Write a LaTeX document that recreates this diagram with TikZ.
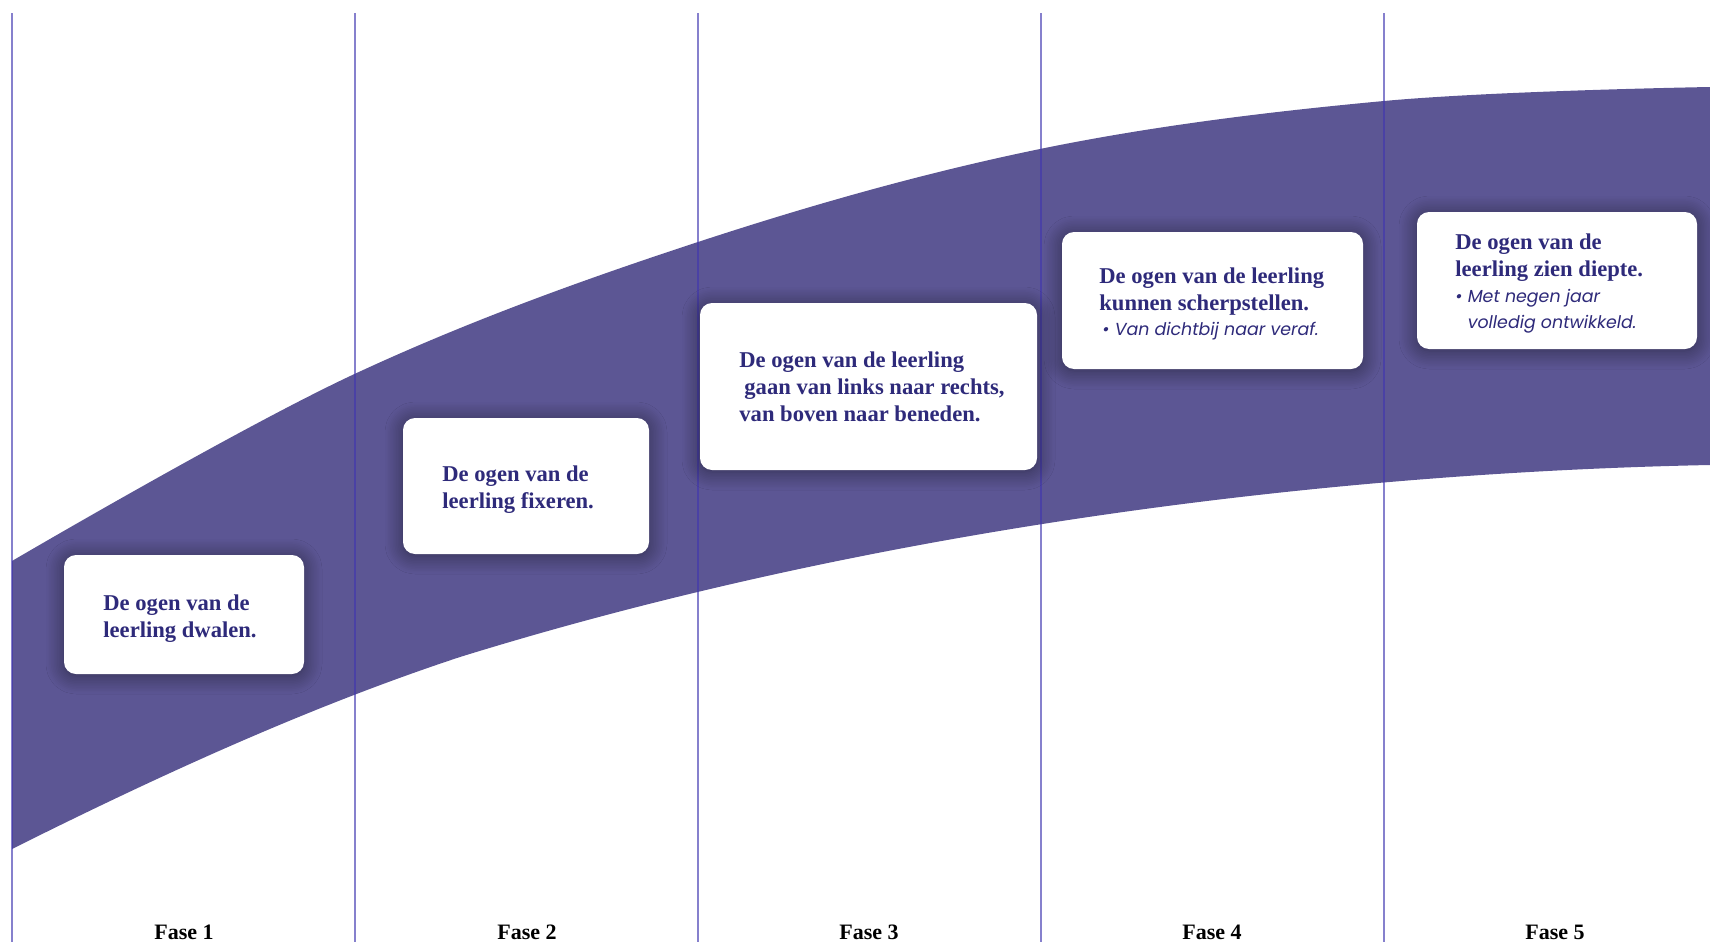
\documentclass[tikz,border=0pt]{standalone}
\usepackage{fontspec}
\setmainfont{Liberation Serif}
\newfontfamily\notefont{Poppins}
\usetikzlibrary{shadows.blur}
\definecolor{band}{RGB}{92,86,148}
\definecolor{ink}{RGB}{46,42,122}
\definecolor{rulec}{RGB}{64,54,176}
\begin{document}
\begin{tikzpicture}[x=0.5pt,y=-0.5pt,
  card/.style={fill=white, rounded corners=6pt, inner sep=0pt,
    blur shadow={shadow xshift=0pt, shadow yshift=-1pt, shadow blur radius=9pt, shadow opacity=50, shadow blur steps=12}},
  txt/.style={anchor=base west, inner sep=0pt, align=left, text=ink, font=\fontsize{11.3}{13.5}\selectfont\bfseries},
  note/.style={anchor=base west, inner sep=0pt, align=left, text=ink, font=\fontsize{8.7}{13}\notefont\itshape},
  phase/.style={anchor=base, inner sep=0pt, font=\fontsize{11}{12}\selectfont\bfseries},
  vline/.style={draw=rulec, draw opacity=0.63, line width=1pt}]
\useasboundingbox (0,0) rectangle (1710,942);
% band
\fill[band] plot[smooth, tension=0.6] coordinates {(12,561) (354.5,374) (698,242) (1040,149) (1384,101) (1710,87)}
  -- (1710,465)
  .. controls (1310,473) and (860,533) .. (460,657)
  .. controls (310,706.5) and (160,775) .. (12,849)
  -- cycle;
% vertical rules
\foreach \i in {0,...,4}{
  \coordinate (top\i) at (12+343*\i,13);
  \coordinate (bot\i) at (12+343*\i,942);
  \draw[vline] (top\i) -- (bot\i);
}
% cards
\node[card, minimum width=120pt, minimum height=59.5pt] (b1) at (184,614.5) {};
\node[card, minimum width=123pt, minimum height=68pt] (b2) at (526,486) {};
\node[card, minimum width=168.5pt, minimum height=83.5pt] (b3) at (868.5,386.5) {};
\node[card, minimum width=150.5pt, minimum height=68.5pt] (b4) at (1212.5,300.5) {};
\node[card, minimum width=140pt, minimum height=68.5pt] (b5) at (1557,280.5) {};
% texts (anchor = baseline of the last line)
\node[txt] (t1) at (103,637) {De ogen van de\\leerling dwalen.};
\node[txt] (t2) at (442,508) {De ogen van de\\leerling fixeren.};
\node[txt] (t3) at (739,421) {De ogen van de leerling\\\hspace{2.5pt}gaan van links naar rechts,\\van boven naar beneden.};
\node[txt] (t4) at (1099,310) {De ogen van de leerling\\kunnen scherpstellen.};
\node[note] (n4) at (1102,335) {•\ Van dichtbij naar veraf.};
\node[txt] (t5) at (1455,276) {De ogen van de\\leerling zien diepte.};
\node[note] (n5) at (1455,328) {•\ Met negen jaar\\\phantom{•\ }volledig ontwikkeld.};
% phases
\node[phase] (f1) at (184,939) {Fase 1};
\node[phase] (f2) at (527,939) {Fase 2};
\node[phase] (f3) at (869,939) {Fase 3};
\node[phase] (f4) at (1212,939) {Fase 4};
\node[phase] (f5) at (1555,939) {Fase 5};
\end{tikzpicture}
\end{document}
